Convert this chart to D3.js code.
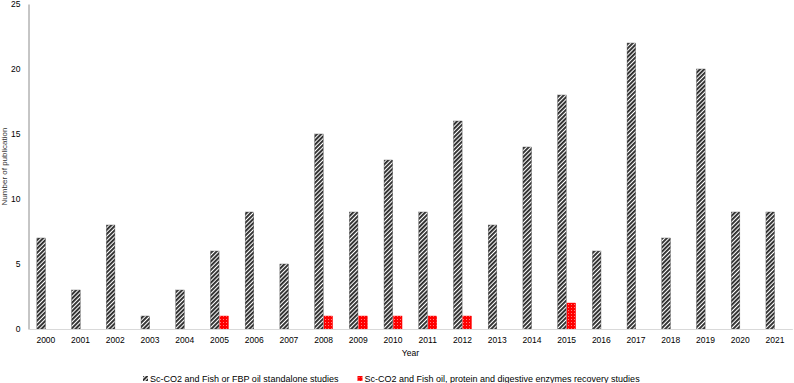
<!DOCTYPE html>
<html>
<head>
<meta charset="utf-8">
<script src="https://cdn.jsdelivr.net/npm/d3@7"></script>
<style>
  body { margin: 0; background: #fff; }
  svg { display: block; font-family: "Liberation Sans", Arial, sans-serif; }
</style>
</head>
<body>
<svg id="chart"></svg>
<script>
"use strict";

// data
const years = ["2000","2001","2002","2003","2004","2005","2006","2007","2008","2009","2010",
               "2011","2012","2013","2014","2015","2016","2017","2018","2019","2020","2021"];
const standalone = [7, 3, 8, 1, 3, 6, 9, 5, 15, 9, 13, 9, 16, 8, 14, 18, 6, 22, 7, 20, 9, 9];
const recovery   = [0, 0, 0, 0, 0, 1, 0, 0, 1, 1, 1, 1, 1, 0, 0, 2, 0, 0, 0, 0, 0, 0];
const yTicks = [0, 5, 10, 15, 20, 25];
const seriesNames = [
  "Sc-CO2 and Fish or FBP oil standalone studies",
  "Sc-CO2 and Fish oil, protein and digestive enzymes recovery studies"
];

const W = 794, H = 383;
const plot = { left: 28.5, right: 792.3, top: 4, bottom: 329 };

const svg = d3.select("#chart").attr("width", W).attr("height", H);

// fill patterns
const defs = svg.append("defs");
const hatch = defs.append("pattern")
  .attr("id", "hatch").attr("patternUnits", "userSpaceOnUse")
  .attr("width", 3).attr("height", 3)
  .attr("patternTransform", "rotate(45)");
hatch.append("rect").attr("width", 3).attr("height", 3).attr("fill", "#fff");
hatch.append("rect").attr("width", 1.9).attr("height", 3).attr("fill", "#2b2b2b");

const dots = defs.append("pattern")
  .attr("id", "dots").attr("patternUnits", "userSpaceOnUse")
  .attr("width", 3).attr("height", 3);
dots.append("rect").attr("width", 3).attr("height", 3).attr("fill", "#ff0000");
dots.append("rect").attr("x", 1).attr("y", 1).attr("width", 0.9).attr("height", 0.9).attr("fill", "#ff9a9a");

// scales
const x = d3.scaleBand().domain(years).range([plot.left, plot.right]);
const inner = d3.scaleBand().domain([0, 1])
  .range([x.bandwidth() / 2 - 9, x.bandwidth() / 2 + 9]).paddingInner(0.08);
const y = d3.scaleLinear().domain([0, 25]).range([plot.bottom, plot.top]);

// bars
const fills = ["url(#hatch)", "url(#dots)"];
[standalone, recovery].forEach((vals, s) => {
  svg.append("g").selectAll("rect")
    .data(vals.map((v, i) => ({ year: years[i], v })).filter(d => d.v > 0))
    .enter().append("rect")
    .attr("x", d => x(d.year) + inner(s))
    .attr("y", d => y(d.v))
    .attr("width", inner.bandwidth())
    .attr("height", d => y(0) - y(d.v))
    .attr("fill", fills[s])
    .attr("stroke", s === 0 ? "#555" : "#ff0000")
    .attr("stroke-width", 0.4);
});

// axes
const yAxis = svg.append("g")
  .attr("transform", `translate(${plot.left},0)`)
  .call(d3.axisLeft(y).tickValues(yTicks).tickSize(0).tickPadding(8));
yAxis.select(".domain").attr("stroke", "#8c8c8c").attr("stroke-width", 1);
yAxis.selectAll("text").attr("font-size", 8.5).attr("fill", "#000")
  .attr("font-family", "Liberation Sans, Arial, sans-serif");

const xAxis = svg.append("g")
  .attr("transform", `translate(0,${plot.bottom})`)
  .call(d3.axisBottom(x).tickSize(0).tickPadding(8));
xAxis.select(".domain").attr("stroke", "#d9d9d9").attr("stroke-width", 1);
xAxis.selectAll("text").attr("font-size", 8.5).attr("fill", "#000")
  .attr("font-family", "Liberation Sans, Arial, sans-serif");

// axis titles
svg.append("text")
  .attr("x", (plot.left + plot.right) / 2).attr("y", 356)
  .attr("text-anchor", "middle").attr("font-size", 8.5)
  .text("Year");

svg.append("text")
  .attr("transform", `translate(7,${(plot.top + plot.bottom) / 2}) rotate(-90)`)
  .attr("text-anchor", "middle").attr("font-size", 8)
  .attr("fill", "#333")
  .text("Number of publication");

// legend
const legendItems = [
  { x: 143, fill: "url(#hatch)", label: seriesNames[0] },
  { x: 357.5, fill: "url(#dots)", label: seriesNames[1] }
];
const lg = svg.append("g").selectAll("g").data(legendItems).enter().append("g")
  .attr("transform", d => `translate(${d.x},379)`);
lg.append("rect").attr("x", 0).attr("y", -3).attr("width", 5).attr("height", 5)
  .attr("fill", d => d.fill);
lg.append("text").attr("x", 7).attr("y", 3).attr("font-size", 9)
  .text(d => d.label);
</script>
</body>
</html>
